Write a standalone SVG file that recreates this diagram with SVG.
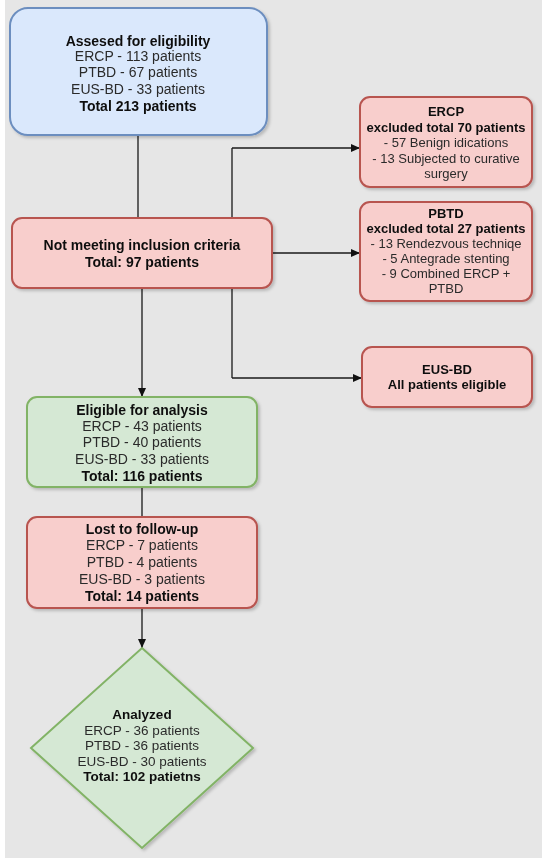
<svg xmlns="http://www.w3.org/2000/svg" width="550" height="867" viewBox="0 0 550 867">
<defs>
<style>
.t{font-family:"Liberation Sans",Arial,sans-serif;text-anchor:middle;fill:#2b2b2b}
.b{font-weight:bold;fill:#111}
.s14{font-size:14px}
.s135{font-size:13.5px}
.s13{font-size:13px}
.blue{fill:#dae8fc;stroke:#6c8ebf;stroke-width:2}
.red{fill:#f8cecc;stroke:#b85450;stroke-width:2}
.green{fill:#d5e8d4;stroke:#82b366;stroke-width:2}
.edge{fill:none;stroke:#1a1a1a;stroke-width:1.3}
</style>
<marker id="arr" markerUnits="userSpaceOnUse" markerWidth="10" markerHeight="9" refX="9" refY="4" orient="auto">
<path d="M0,0 L9,4 L0,8 z" fill="#111"/>
</marker>
<filter id="sh" x="-10%" y="-10%" width="130%" height="130%">
<feDropShadow dx="2" dy="2" stdDeviation="1.5" flood-color="#000" flood-opacity="0.2"/>
</filter>
</defs>
<rect x="0" y="0" width="550" height="867" fill="#ffffff"/>
<rect x="5" y="0" width="537" height="858" fill="#e6e6e6"/>

<g id="connectors">
<path class="edge" d="M138 135 V218"/>
<path class="edge" d="M232 148 V378"/>
<path class="edge" d="M232 148 H360" marker-end="url(#arr)"/>
<path class="edge" d="M272 253 H360" marker-end="url(#arr)"/>
<path class="edge" d="M232 378 H362" marker-end="url(#arr)"/>
<path class="edge" d="M142 288 V397" marker-end="url(#arr)"/>
<path class="edge" d="M142 487 V517"/>
<path class="edge" d="M142 608 V648" marker-end="url(#arr)"/>
</g>

<g id="assessed" filter="url(#sh)">
<rect class="blue" x="10" y="8" width="257" height="127" rx="18"/>
<text class="t s14 b" x="138" y="46">Assesed for eligibility</text>
<text class="t s14" x="138" y="61">ERCP - 113 patients</text>
<text class="t s14" x="138" y="77">PTBD - 67 patients</text>
<text class="t s14" x="138" y="94">EUS-BD - 33 patients</text>
<text class="t s14 b" x="138" y="111">Total 213 patients</text>
</g>

<g id="notmeeting" filter="url(#sh)">
<rect class="red" x="12" y="218" width="260" height="70" rx="10"/>
<text class="t s14 b" x="142" y="250">Not meeting inclusion criteria</text>
<text class="t s14 b" x="142" y="267">Total: 97 patients</text>
</g>

<g id="ercp-excluded" filter="url(#sh)">
<rect class="red" x="360" y="97" width="172" height="90" rx="10"/>
<text class="t s13 b" x="446" y="116">ERCP</text>
<text class="t s13 b" x="446" y="132">excluded total 70 patients</text>
<text class="t s13" x="446" y="147">- 57 Benign idications</text>
<text class="t s13" x="446" y="163">- 13 Subjected to curative</text>
<text class="t s13" x="446" y="178">surgery</text>
</g>

<g id="pbtd-excluded" filter="url(#sh)">
<rect class="red" x="360" y="202" width="172" height="99" rx="10"/>
<text class="t s13 b" x="446" y="218">PBTD</text>
<text class="t s13 b" x="446" y="233">excluded total 27 patients</text>
<text class="t s13" x="446" y="248">- 13 Rendezvous techniqe</text>
<text class="t s13" x="446" y="263">- 5 Antegrade stenting</text>
<text class="t s13" x="446" y="278">- 9 Combined ERCP +</text>
<text class="t s13" x="446" y="293">PTBD</text>
</g>

<g id="eusbd" filter="url(#sh)">
<rect class="red" x="362" y="347" width="170" height="60" rx="10"/>
<text class="t s13 b" x="447" y="374">EUS-BD</text>
<text class="t s13 b" x="447" y="389">All patients eligible</text>
</g>

<g id="eligible" filter="url(#sh)">
<rect class="green" x="27" y="397" width="230" height="90" rx="10"/>
<text class="t s14 b" x="142" y="415">Eligible for analysis</text>
<text class="t s14" x="142" y="431">ERCP - 43 patients</text>
<text class="t s14" x="142" y="447">PTBD - 40 patients</text>
<text class="t s14" x="142" y="464">EUS-BD - 33 patients</text>
<text class="t s14 b" x="142" y="481">Total: 116 patients</text>
</g>

<g id="lost" filter="url(#sh)">
<rect class="red" x="27" y="517" width="230" height="91" rx="10"/>
<text class="t s14 b" x="142" y="534">Lost to follow-up</text>
<text class="t s14" x="142" y="550">ERCP - 7 patients</text>
<text class="t s14" x="142" y="567">PTBD - 4 patients</text>
<text class="t s14" x="142" y="584">EUS-BD - 3 patients</text>
<text class="t s14 b" x="142" y="601">Total: 14 patients</text>
</g>

<g id="analyzed" filter="url(#sh)">
<polygon class="green" points="142,648 253,748 142,848 31,748"/>
<text class="t s135 b" x="142" y="719">Analyzed</text>
<text class="t s135" x="142" y="734.5">ERCP - 36 patients</text>
<text class="t s135" x="142" y="750">PTBD - 36 patients</text>
<text class="t s135" x="142" y="765.5">EUS-BD - 30 patients</text>
<text class="t s135 b" x="142" y="781">Total: 102 patietns</text>
</g>
</svg>
